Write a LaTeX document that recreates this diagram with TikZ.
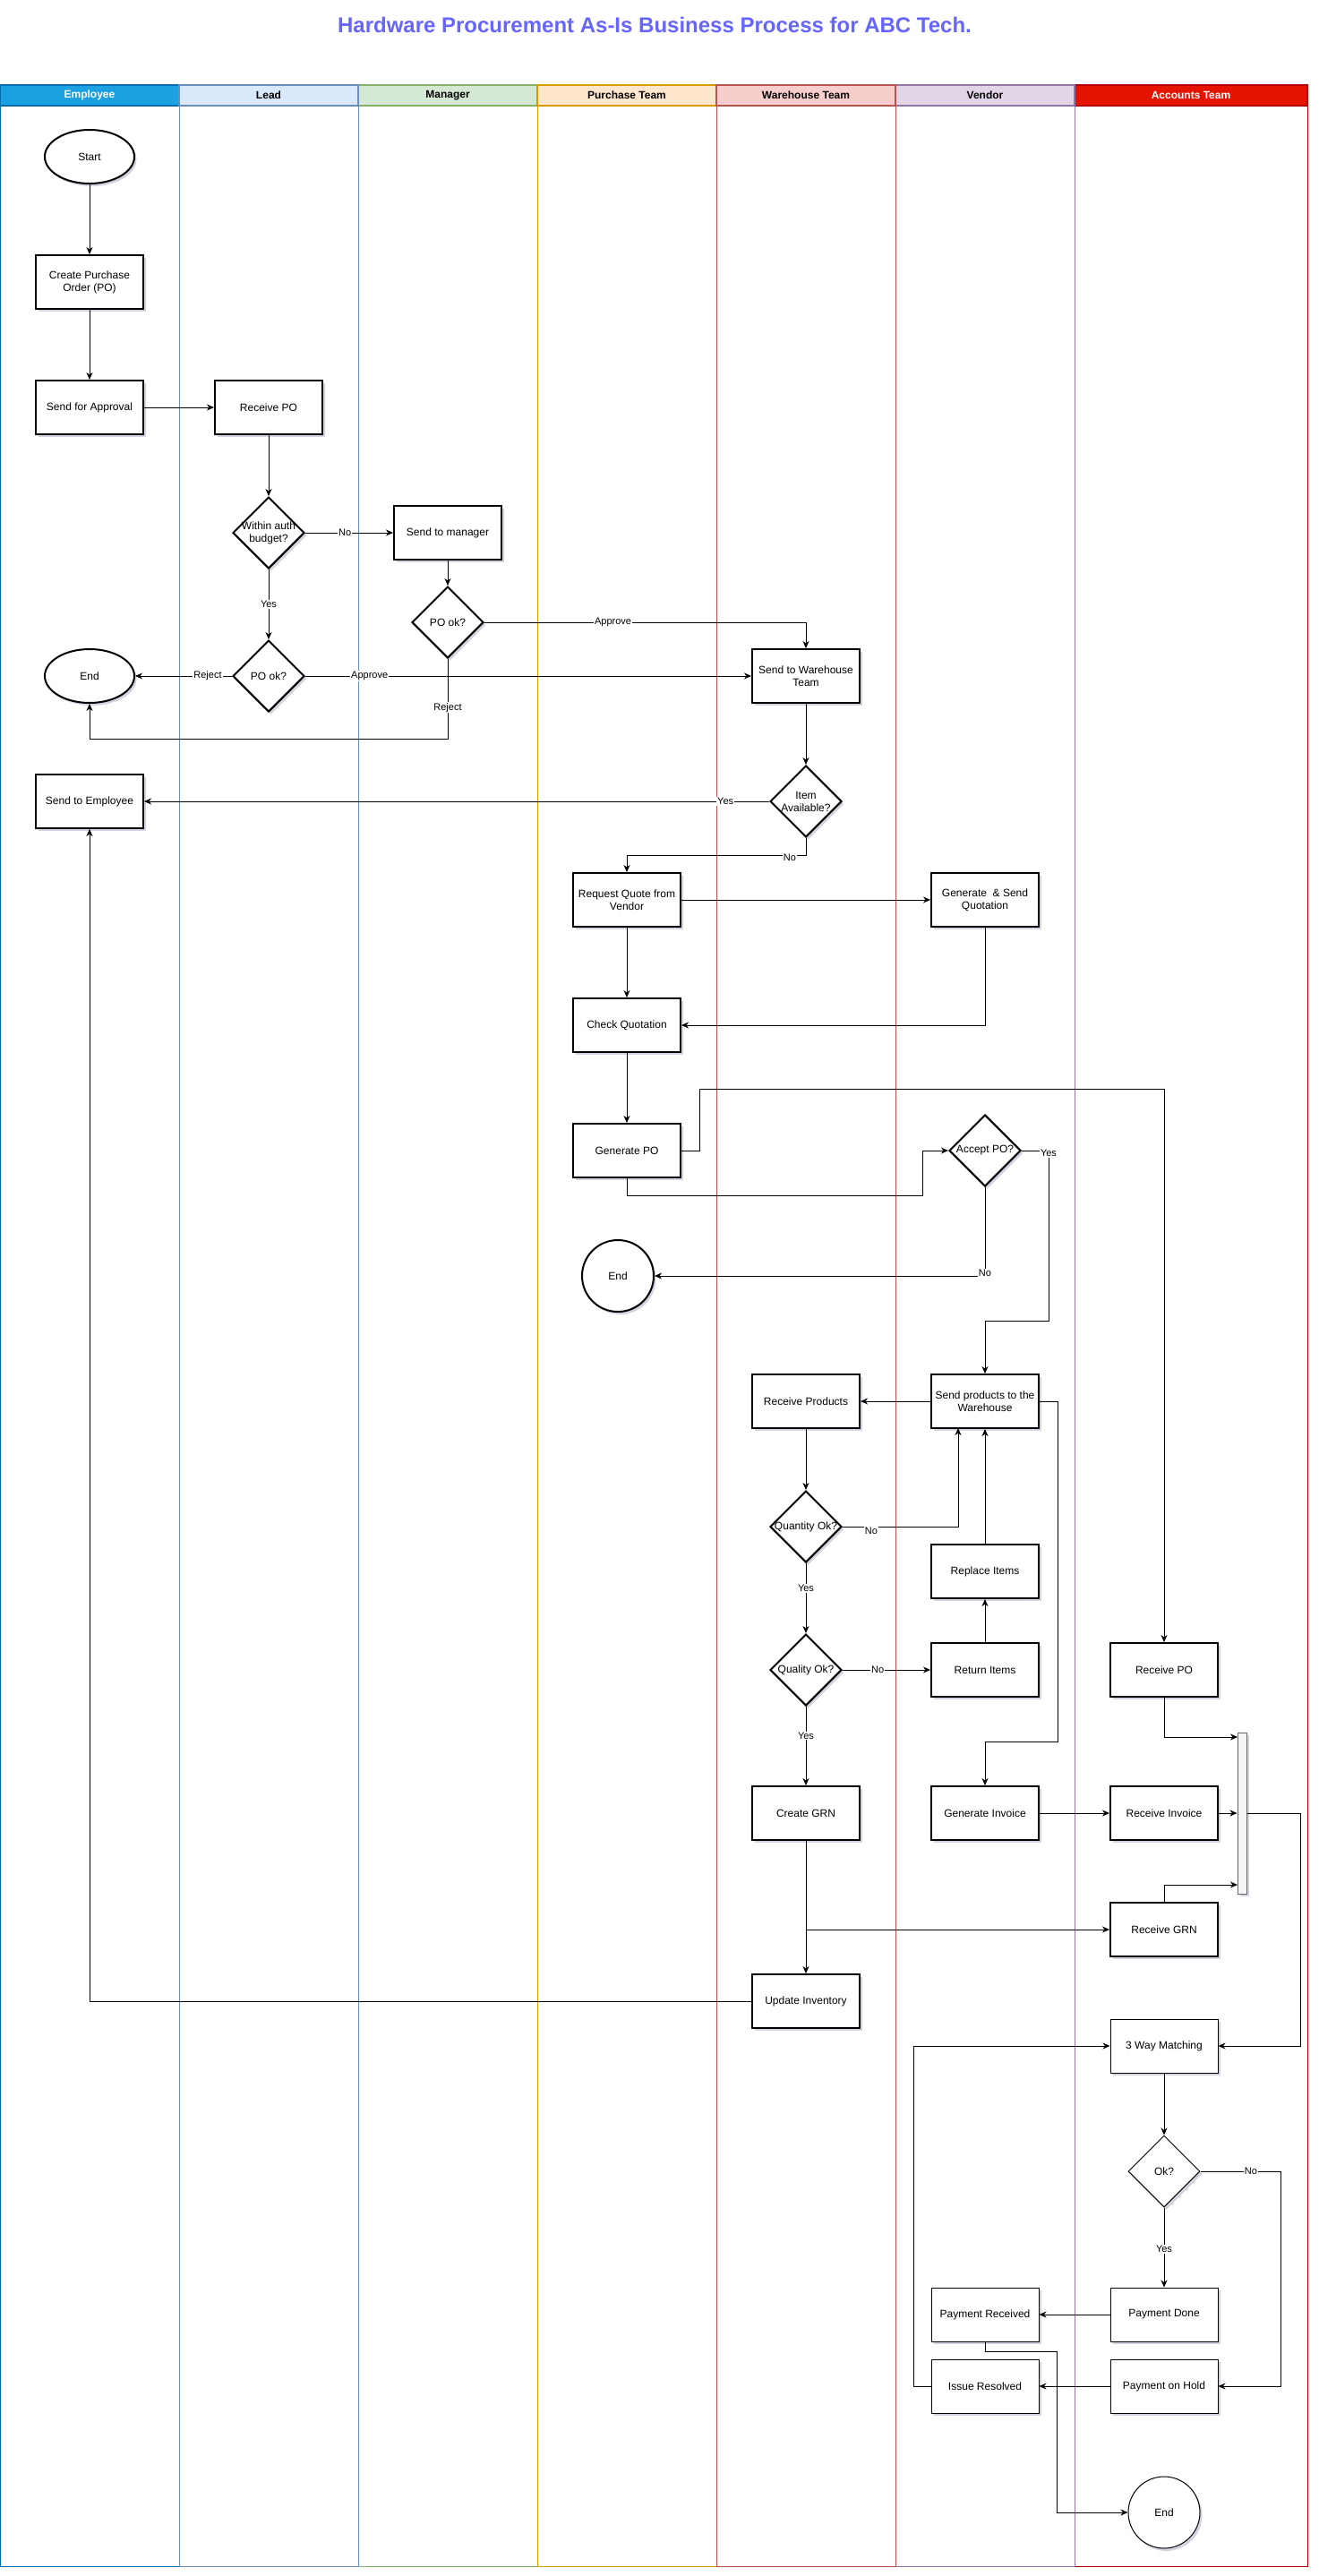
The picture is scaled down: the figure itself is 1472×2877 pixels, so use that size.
\documentclass[tikz,border=0pt]{standalone}
\usepackage{fontspec}
\setmainfont{Liberation Sans}
\usetikzlibrary{shapes.geometric,arrows.meta,shadows,calc}
\definecolor{empF}{HTML}{1BA1E2}\definecolor{empS}{HTML}{006EAF}
\definecolor{leadF}{HTML}{DAE8FC}\definecolor{leadS}{HTML}{6C8EBF}
\definecolor{manF}{HTML}{D5E8D4}\definecolor{manS}{HTML}{82B366}
\definecolor{purF}{HTML}{FFE6CC}\definecolor{purS}{HTML}{D79B00}
\definecolor{whF}{HTML}{F8CECC}\definecolor{whS}{HTML}{B85450}
\definecolor{venF}{HTML}{E1D5E7}\definecolor{venS}{HTML}{9673A6}
\definecolor{accF}{HTML}{E51400}\definecolor{accS}{HTML}{B20000}
\definecolor{titleC}{HTML}{6666FF}
\definecolor{shadC}{HTML}{B4B4CC}
\definecolor{barF}{HTML}{F5F5F5}\definecolor{barS}{HTML}{666666}
\begin{document}
\begin{tikzpicture}[x=1pt,y=-1pt,
 shad/.style={drop shadow={shadow xshift=2.5pt,shadow yshift=-3pt,fill=shadC,opacity=0.6}},
 proc/.style={rectangle,draw=black,line width=2pt,fill=white,minimum width=120pt,minimum height=60pt,inner sep=2pt,align=center,font=\fontsize{12}{14}\selectfont,shad},
 thinproc/.style={proc,line width=1pt},
 dec/.style={diamond,draw=black,line width=2pt,fill=white,minimum width=80pt,minimum height=80pt,inner sep=0pt,shad},
 thindec/.style={dec,line width=1pt},
 dectext/.style={align=center,font=\fontsize{12}{14}\selectfont,inner sep=0pt},
 term/.style={ellipse,draw=black,line width=2pt,fill=white,minimum width=100pt,minimum height=60pt,inner sep=0pt,font=\fontsize{12}{14}\selectfont,shad},
 circterm/.style={term,minimum width=80pt,minimum height=80pt},
 flow/.style={draw=black,line width=1pt,-{Stealth[length=8pt,width=7pt,inset=2.5pt]}},
 lbl/.style={fill=white,inner sep=1pt,font=\fontsize{11}{13}\selectfont},
 lanebody/.style={line width=1pt},
 lanehead/.style={line width=1.2pt,minimum height=23pt,inner sep=0pt,font=\bfseries\fontsize{12}{14}\selectfont},
]
\useasboundingbox (0,0) rectangle (1472,2877);
\fill[white] (0,0) rectangle (1472,2877);

% title
\node[font=\bfseries\fontsize{24}{28}\selectfont,text=titleC,anchor=base] (title) at (731,37) {Hardware Procurement As-Is Business Process for ABC Tech.};

% lanes (bodies)
\draw[lanebody,draw=empS] (0,118) rectangle (200,2866);
\draw[lanebody,draw=manS] (400,118) rectangle (600,2866);
\draw[lanebody,draw=leadS] (200,118) rectangle (400,2866);
\draw[lanebody,draw=purS] (600,118) rectangle (800,2866);
\draw[lanebody,draw=accS] (1200,118) rectangle (1460,2866);
\draw[lanebody,draw=venS] (1000,118) rectangle (1200,2866);
\draw[lanebody,draw=whS] (800,118) rectangle (1000,2866);
% lane headers
\node[lanehead,draw=empS,fill=empF,text=white,minimum width=200pt] (hEmp) at (100,106.5) {Employee};
\node[lanehead,draw=manS,fill=manF,minimum width=200pt] (hMan) at (500,106.5) {Manager};
\node[lanehead,draw=leadS,fill=leadF,minimum width=200pt] (hLead) at (300,106.5) {Lead};
\node[lanehead,draw=purS,fill=purF,minimum width=200pt] (hPur) at (700,106.5) {Purchase Team};
\node[lanehead,draw=accS,fill=accF,text=white,minimum width=260pt] (hAcc) at (1330,106.5) {Accounts Team};
\node[lanehead,draw=venS,fill=venF,minimum width=200pt] (hVen) at (1100,106.5) {Vendor};
\node[lanehead,draw=whS,fill=whF,minimum width=200pt] (hWh) at (900,106.5) {Warehouse Team};

% Employee
\node[term] (start) at (100,175) {Start};
\node[proc] (cpo) at (100,315) {Create Purchase\\Order (PO)};
\node[proc] (sfa) at (100,455) {Send for Approval};
\node[term] (end1) at (100,755) {End};
\node[proc] (ste) at (100,895) {Send to Employee};
% Lead
\node[proc] (rpo) at (300,455) {Receive PO};
\node[dec,label={[dectext,name=wabT]center:Within auth\\budget?}] (wab) at (300,595) {};
\node[dec,label={[dectext,name=pok1T]center:PO ok?}] (pok1) at (300,755) {};
% Manager
\node[proc] (stm) at (500,595) {Send to manager};
\node[dec,label={[dectext,name=pok2T]center:PO ok?}] (pok2) at (500,695) {};
% Purchase
\node[proc] (rq) at (700,1005) {Request Quote from\\Vendor};
\node[proc] (cq) at (700,1145) {Check Quotation};
\node[proc] (gpo) at (700,1285) {Generate PO};
\node[circterm] (end2) at (690,1425) {End};
% Warehouse
\node[proc] (stw) at (900,755) {Send to Warehouse\\Team};
\node[dec,label={[dectext,name=iaT]center:Item\\Available?}] (ia) at (900,895) {};
\node[proc] (rp) at (900,1565) {Receive Products};
\node[dec,label={[dectext,name=qtyT]center:Quantity Ok?}] (qty) at (900,1705) {};
\node[dec,label={[dectext,name=qlyT]center:Quality Ok?}] (qly) at (900,1865) {};
\node[proc] (grn) at (900,2025) {Create GRN};
\node[proc] (ui) at (900,2235) {Update Inventory};
% Vendor
\node[proc] (gsq) at (1100,1005) {Generate\ \ \& Send\\Quotation};
\node[dec,label={[dectext,name=apoT]center:Accept PO?}] (apo) at (1100,1285) {};
\node[proc] (spw) at (1100,1565) {Send products to the\\Warehouse};
\node[proc] (ri) at (1100,1755) {Replace Items};
\node[proc] (ret) at (1100,1865) {Return Items};
\node[proc] (gi) at (1100,2025) {Generate Invoice};
\node[thinproc] (pr) at (1100,2585) {Payment Received};
\node[thinproc] (ir) at (1100,2665) {Issue Resolved};
% Accounts
\node[proc] (rpo2) at (1300,1865) {Receive PO};
\node[proc] (rinv) at (1300,2025) {Receive Invoice};
\node[proc] (rgrn) at (1300,2155) {Receive GRN};
\node[draw=barS,fill=barF,line width=1pt,minimum width=10pt,minimum height=180pt,inner sep=0pt,shad] (bar) at (1387,2025) {};
\node[thinproc] (twm) at (1300,2285) {3 Way Matching};
\node[thindec,label={[dectext,name=okT]center:Ok?}] (ok) at (1300,2425) {};
\node[thinproc] (pd) at (1300,2585) {Payment Done};
\node[thinproc] (poh) at (1300,2665) {Payment on Hold};
\node[circterm,line width=1pt] (end3) at (1300,2806) {End};

% bend points
\coordinate (b11) at (500,825);
\coordinate (b13) at (900,955);
\coordinate (b18) at (781,1216);
\coordinate (b19) at (1030,1335);
\coordinate (b20) at (1171,1475);
\coordinate (b23) at (1181,1945);
\coordinate (spwb) at (1070,1595);
\coordinate (barIn1) at (1382,1940);
\coordinate (barIn2) at (1382,2105);
\coordinate (b38) at (1452,2025);
\coordinate (b41) at (1430,2425);
\coordinate (b44) at (1020,2665);
\coordinate (b45a) at (1100,2626);
\coordinate (b45b) at (1180,2806);

% connectors
\draw[flow] (start) -- (cpo);
\draw[flow] (cpo) -- (sfa);
\draw[flow] (sfa) -- (rpo);
\draw[flow] (rpo) -- (wab);
\draw[flow] (wab.east) -- node[lbl,pos=0.45] (lNo1) {No} (stm.west);
\draw[flow] (wab.south) -- node[lbl,pos=0.5] (lYes1) {Yes} (pok1.north);
\draw[flow] (pok1.west) -- node[lbl,pos=0.25] (lRej1) {Reject} (end1.east);
\draw[flow] (pok1.east) -- node[lbl,pos=0.144] (lApp1) {Approve} (stw.west);
\draw[flow] (stm) -- (pok2);
\draw[flow] (pok2.east) -- node[lbl,pos=0.4] (lApp2) {Approve} (stw.north |- pok2.east) -- (stw.north);
\draw[flow] (pok2.south) -- node[lbl,pos=0.61] (lRej2) {Reject} (b11) -| (end1.south);
\draw[flow] (stw) -- (ia);
\draw[flow] (ia.west) -- node[lbl,pos=0.07] (lYes2) {Yes} (ste.east);
\draw[flow] (ia.south) -- (b13) -| (rq.north);
\node[lbl] (lNo2) at (882,958) {No};
\draw[flow] (rq) -- (gsq);
\draw[flow] (rq) -- (cq);
\draw[flow] (gsq.south) |- (cq.east);
\draw[flow] (cq) -- (gpo);
\draw[flow] (gpo.east) -| (b18) -| (rpo2.north);
\draw[flow] (gpo.south) |- (b19) |- (apo.west);
\draw[flow] (apo.east) -| (b20) -| (spw.north);
\node[lbl] (lYes3) at (1171,1288) {Yes};
\draw[flow] (apo.south) |- (end2.east);
\node[lbl] (lNo3) at (1100,1422) {No};
\draw[flow] (spw.west) -- (rp.east);
\draw[flow] (spw.east) -| (b23) -| (gi.north);
\draw[flow] (rp) -- (qty);
\draw[flow] (qty.east) -| (spwb);
\node[lbl] (lNo4) at (973,1710) {No};
\draw[flow] (qty.south) -- node[lbl,pos=0.36] (lYes4) {Yes} (qly.north);
\draw[flow] (qly.east) -- node[lbl,pos=0.4] (lNo5) {No} (ret.west);
\draw[flow] (ret) -- (ri);
\draw[flow] (ri) -- (spw);
\draw[flow] (qly.south) -- node[lbl,pos=0.37] (lYes5) {Yes} (grn.north);
\draw[flow] (grn) -- (ui);
\draw[flow] (grn.south |- rgrn.west) -- (rgrn.west);
\draw[flow] (ui.west) -| (ste.south);
\draw[flow] (gi) -- (rinv);
\draw[flow] (rinv.east) -- (bar.west |- rinv.east);
\draw[flow] (rpo2.south) |- (barIn1);
\draw[flow] (rgrn.north) |- (barIn2);
\draw[flow] (bar.east) -- (b38) |- (twm.east);
\draw[flow] (twm) -- (ok);
\draw[flow] (ok.south) -- node[lbl,pos=0.52] (lYes6) {Yes} (pd.north);
\draw[flow] (ok.east) -- node[lbl,pos=0.63] (lNo6) {No} (b41) |- (poh.east);
\draw[flow] (pd) -- (pr);
\draw[flow] (poh) -- (ir);
\draw[flow] (ir.west) -- (b44) |- (twm.west);
\draw[flow] (pr.south) -- (b45a) -| (b45b) -- (end3.west);
\end{tikzpicture}
\end{document}
